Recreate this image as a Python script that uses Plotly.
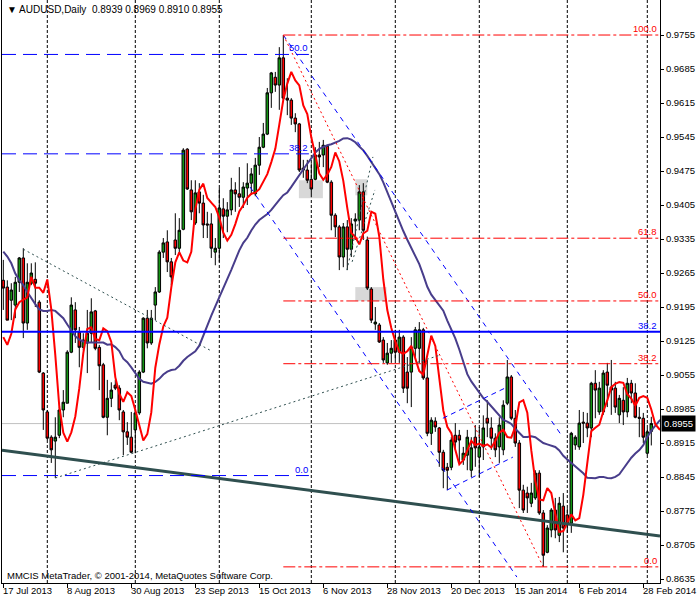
import plotly.graph_objects as go

# ---------------- data ----------------
symbol_title = "AUDUSD,Daily"
tick_bars = [0, 16, 32, 48, 64, 80, 96, 112, 128, 144, 160]
tick_labels = ["17 Jul 2013", "8 Aug 2013", "30 Aug 2013", "23 Sep 2013", "15 Oct 2013",
               "6 Nov 2013", "28 Nov 2013", "20 Dec 2013", "15 Jan 2014", "6 Feb 2014", "28 Feb 2014"]
month_start_bars = [11, 33, 54, 77, 98, 119, 141, 161]
y_ticks = [0.9755, 0.9685, 0.9615, 0.9545, 0.9475, 0.9405, 0.9335, 0.9265, 0.9195,
           0.9125, 0.9055, 0.8985, 0.8915, 0.8845, 0.8775, 0.8705, 0.8635]

opens = [0.9250, 0.9236, 0.9209, 0.9199, 0.9246, 0.9296, 0.9162, 0.9244, 0.9252, 0.9205,
         0.9059, 0.8979, 0.8927, 0.8919, 0.8931, 0.8983, 0.8997, 0.9102, 0.9189, 0.9143,
         0.9112, 0.9121, 0.9141, 0.9187, 0.9112, 0.9076, 0.8968, 0.9007, 0.9034, 0.9028,
         0.8979, 0.8938, 0.8927, 0.8942, 0.8977, 0.9061, 0.9172, 0.9121, 0.9199, 0.9226,
         0.9308, 0.9329, 0.9288, 0.9333, 0.9316, 0.9355, 0.9520, 0.9436, 0.9368, 0.9432,
         0.9409, 0.9366, 0.9366, 0.9308, 0.9316, 0.9397, 0.9382, 0.9395, 0.9436, 0.9428,
         0.9421, 0.9440, 0.9450, 0.9428, 0.9487, 0.9524, 0.9551, 0.9636, 0.9668, 0.9652,
         0.9708, 0.9625, 0.9621, 0.9584, 0.9572, 0.9481, 0.9477, 0.9458, 0.9458, 0.9508,
         0.9508, 0.9526, 0.9452, 0.9384, 0.9360, 0.9298, 0.9360, 0.9314, 0.9372, 0.9374,
         0.9432, 0.9333, 0.9232, 0.9160, 0.9158, 0.9127, 0.9080, 0.9100, 0.9127, 0.9102,
         0.9133, 0.9061, 0.9061, 0.9110, 0.9110, 0.9148, 0.9049, 0.8935, 0.8960, 0.8946,
         0.8896, 0.8865, 0.8865, 0.8931, 0.8931, 0.8880, 0.8890, 0.8859, 0.8927, 0.8886,
         0.8907, 0.8966, 0.8946, 0.8925, 0.8907, 0.8901, 0.8997, 0.9051, 0.8966, 0.8915,
         0.8818, 0.8812, 0.8791, 0.8802, 0.8853, 0.8771, 0.8690, 0.8736, 0.8777, 0.8725,
         0.8785, 0.8767, 0.8750, 0.8911, 0.8907, 0.8958, 0.8956, 0.8946, 0.9038, 0.8979,
         0.8979, 0.9061, 0.9030, 0.9028, 0.8973, 0.9003, 0.8979, 0.9038, 0.9018, 0.8968,
         0.8966, 0.8894, 0.8939]
highs = [0.9292, 0.9250, 0.9244, 0.9257, 0.9298, 0.9316, 0.9285, 0.9285, 0.9287, 0.9209,
         0.9061, 0.8983, 0.8931, 0.8968, 0.8989, 0.9024, 0.9106, 0.9215, 0.9205, 0.9154,
         0.9141, 0.9189, 0.9213, 0.9189, 0.9117, 0.9080, 0.9045, 0.9040, 0.9045, 0.9034,
         0.8983, 0.8958, 0.8979, 0.8983, 0.9065, 0.9174, 0.9189, 0.9189, 0.9236, 0.9312,
         0.9337, 0.9353, 0.9296, 0.9388, 0.9378, 0.9522, 0.9522, 0.9456, 0.9456, 0.9450,
         0.9426, 0.9391, 0.9388, 0.9337, 0.9440, 0.9419, 0.9411, 0.9461, 0.9452, 0.9483,
         0.9452, 0.9491, 0.9481, 0.9502, 0.9545, 0.9574, 0.9646, 0.9679, 0.9679, 0.9730,
         0.9755, 0.9666, 0.9625, 0.9594, 0.9574, 0.9498, 0.9498, 0.9491, 0.9524, 0.9535,
         0.9539, 0.9528, 0.9456, 0.9388, 0.9364, 0.9368, 0.9374, 0.9378, 0.9388, 0.9446,
         0.9450, 0.9340, 0.9236, 0.9195, 0.9162, 0.9133, 0.9121, 0.9127, 0.9148, 0.9148,
         0.9137, 0.9092, 0.9133, 0.9154, 0.9164, 0.9152, 0.9086, 0.8968, 0.8968, 0.8948,
         0.8901, 0.8874, 0.8927, 0.8956, 0.8942, 0.8907, 0.8942, 0.8927, 0.8952, 0.8948,
         0.8972, 0.9003, 0.8968, 0.8935, 0.8968, 0.9003, 0.9086, 0.9055, 0.8983, 0.8921,
         0.8829, 0.8825, 0.8833, 0.8859, 0.8859, 0.8777, 0.8746, 0.8781, 0.8802, 0.8804,
         0.8812, 0.8781, 0.8938, 0.8931, 0.8983, 0.8979, 0.8977, 0.9041, 0.9065, 0.9041,
         0.9065, 0.9080, 0.9086, 0.9041, 0.9014, 0.9030, 0.9049, 0.9045, 0.9038, 0.8989,
         0.8977, 0.8946, 0.8969]
lows = [0.9189, 0.9168, 0.9168, 0.9172, 0.9226, 0.9131, 0.9148, 0.9240, 0.9195, 0.9059,
        0.8942, 0.8921, 0.8874, 0.8843, 0.8925, 0.8968, 0.8997, 0.9100, 0.9121, 0.9071,
        0.9106, 0.9059, 0.9121, 0.9106, 0.9024, 0.8966, 0.8931, 0.8989, 0.9024, 0.8962,
        0.8890, 0.8911, 0.8894, 0.8894, 0.8973, 0.9059, 0.9110, 0.9117, 0.9168, 0.9224,
        0.9296, 0.9267, 0.9240, 0.9302, 0.9302, 0.9353, 0.9436, 0.9374, 0.9364, 0.9388,
        0.9337, 0.9337, 0.9296, 0.9281, 0.9288, 0.9337, 0.9349, 0.9384, 0.9391, 0.9401,
        0.9399, 0.9405, 0.9426, 0.9423, 0.9467, 0.9522, 0.9549, 0.9605, 0.9638, 0.9601,
        0.9621, 0.9590, 0.9570, 0.9555, 0.9473, 0.9461, 0.9450, 0.9421, 0.9456, 0.9483,
        0.9483, 0.9450, 0.9353, 0.9339, 0.9271, 0.9277, 0.9271, 0.9298, 0.9333, 0.9353,
        0.9333, 0.9230, 0.9162, 0.9148, 0.9121, 0.9080, 0.9076, 0.9080, 0.9086, 0.9080,
        0.9018, 0.8997, 0.8989, 0.9092, 0.9080, 0.9045, 0.8929, 0.8911, 0.8938, 0.8866,
        0.8822, 0.8818, 0.8859, 0.8901, 0.8874, 0.8870, 0.8859, 0.8845, 0.8866, 0.8845,
        0.8880, 0.8927, 0.8901, 0.8886, 0.8874, 0.8890, 0.8993, 0.8962, 0.8907, 0.8781,
        0.8771, 0.8771, 0.8783, 0.8798, 0.8767, 0.8660, 0.8688, 0.8721, 0.8719, 0.8711,
        0.8690, 0.8730, 0.8730, 0.8901, 0.8901, 0.8915, 0.8927, 0.8927, 0.8966, 0.8973,
        0.8973, 0.8989, 0.8973, 0.8977, 0.8956, 0.8952, 0.8968, 0.8997, 0.8966, 0.8927,
        0.8915, 0.8890, 0.8910]
closes = [0.9234, 0.9168, 0.9230, 0.9246, 0.9296, 0.9162, 0.9246, 0.9265, 0.9244, 0.9061,
          0.8983, 0.8925, 0.8901, 0.8927, 0.8983, 0.8999, 0.9102, 0.9199, 0.9148, 0.9112,
          0.9127, 0.9141, 0.9185, 0.9110, 0.9074, 0.8968, 0.9007, 0.9024, 0.9028, 0.8983,
          0.8938, 0.8927, 0.8896, 0.8977, 0.9061, 0.9172, 0.9121, 0.9172, 0.9226, 0.9308,
          0.9327, 0.9288, 0.9257, 0.9316, 0.9353, 0.9518, 0.9438, 0.9391, 0.9430, 0.9409,
          0.9364, 0.9364, 0.9316, 0.9316, 0.9399, 0.9382, 0.9395, 0.9436, 0.9428, 0.9421,
          0.9442, 0.9450, 0.9469, 0.9487, 0.9524, 0.9551, 0.9636, 0.9677, 0.9652, 0.9708,
          0.9625, 0.9621, 0.9584, 0.9572, 0.9477, 0.9477, 0.9456, 0.9438, 0.9508, 0.9504,
          0.9528, 0.9452, 0.9384, 0.9360, 0.9298, 0.9360, 0.9314, 0.9366, 0.9376, 0.9432,
          0.9353, 0.9234, 0.9168, 0.9164, 0.9123, 0.9086, 0.9100, 0.9110, 0.9102, 0.9133,
          0.9028, 0.9028, 0.9112, 0.9148, 0.9148, 0.9049, 0.8935, 0.8962, 0.8948, 0.8896,
          0.8859, 0.8859, 0.8921, 0.8917, 0.8921, 0.8894, 0.8927, 0.8905, 0.8905, 0.8907,
          0.8946, 0.8956, 0.8925, 0.8901, 0.8952, 0.8993, 0.9051, 0.8966, 0.8915, 0.8818,
          0.8777, 0.8802, 0.8812, 0.8853, 0.8771, 0.8684, 0.8740, 0.8777, 0.8736, 0.8791,
          0.8740, 0.8750, 0.8935, 0.8927, 0.8956, 0.8956, 0.8946, 0.9038, 0.9024, 0.9028,
          0.9059, 0.9034, 0.9024, 0.8989, 0.9007, 0.8979, 0.9038, 0.9018, 0.8968, 0.8966,
          0.8927, 0.8938, 0.8955]

# moving-average settings and the values visible before the averages can be computed
fast_period, fast_shift = 3, 3
slow_period, slow_shift = 21, 5
fast_ma_head = [0.9133, 0.9117, 0.9140, 0.9190, 0.9205]
slow_ma_head = [0.9309, 0.9299, 0.9285, 0.9264, 0.9250, 0.9240, 0.9226, 0.9213, 0.9201,
                0.9190, 0.9187, 0.9187, 0.9189, 0.9187, 0.9180, 0.9172, 0.9159, 0.9148,
                0.9135, 0.9128, 0.9124, 0.9122, 0.9122, 0.9122, 0.9122]

# drawn objects (bar index, price)
fib_red_high = (70, 0.9755)
fib_red_low = (135, 0.8660)
fib_levels = [0.0, 38.2, 50.0, 61.8, 100.0]
fib_blue_zero = 0.8848
fib_blue_full = 1.0582
fib_blue_end_bar = 76.4
level_blue_solid = 0.9144
trend_main = [(0, 0.8900), (160, 0.8728)]
channel_upper = [(70, 0.9755), (139.2, 0.8935)]
channel_lower = [(61.7, 0.9442), (128.4, 0.8639)]
small_channel_upper = [(109.9, 0.8966), (125.9, 0.9030)]
small_channel_lower = [(110.9, 0.8818), (127.4, 0.8886)]
dotted_lines = [[(5, 0.9314), (51.7, 0.9106)],
                [(13, 0.8843), (109.2, 0.9096)],
                [(85.9, 0.9271), (92.4, 0.9504)],
                [(87.2, 0.9288), (92.9, 0.9436)]]
gray_boxes = [[(73.9, 0.9456), (79.9, 0.9419)],
              [(88.0, 0.9458), (91.0, 0.9425)],
              [(88.0, 0.9236), (95.8, 0.9207)]]

# ---------------- derived series ----------------
n = len(closes)
bars = list(range(n))


def shifted_sma(values, period, shift, head):
    xs, ys = [], []
    for t in range(n + shift):
        if t < len(head):
            xs.append(t)
            ys.append(head[t])
            continue
        end = t - shift
        start = end - period + 1
        if start < 0:
            continue
        xs.append(t)
        ys.append(sum(values[start:end + 1]) / period)
    return xs, ys


fx, fy = shifted_sma(closes, fast_period, fast_shift, fast_ma_head)
sx, sy = shifted_sma(closes, slow_period, slow_shift, slow_ma_head)

X_RANGE = [-0.325, 164.175]
Y_RANGE = [0.86268, 0.98271]
FONT = "Liberation Sans, Arial, sans-serif"
FS = 9

fig = go.Figure()

fig.add_trace(go.Candlestick(
    x=bars, open=opens, high=highs, low=lows, close=closes,
    increasing=dict(line=dict(color="black", width=1), fillcolor="#139413"),
    decreasing=dict(line=dict(color="black", width=1), fillcolor="#ff0000"),
    whiskerwidth=0, hoverinfo="skip", showlegend=False))

fig.add_trace(go.Scatter(x=sx, y=sy, mode="lines", line=dict(color="#483D8B", width=2),
                         hoverinfo="skip", showlegend=False))
fig.add_trace(go.Scatter(x=fx, y=fy, mode="lines", line=dict(color="#FF0000", width=2),
                         hoverinfo="skip", showlegend=False))

shapes = []
annotations = []


def seg(p0, p1, color, width, dash, layer="above"):
    shapes.append(dict(type="line", xref="x", yref="y", x0=p0[0], y0=p0[1], x1=p1[0], y1=p1[1],
                       line=dict(color=color, width=width, dash=dash), layer=layer))


# month grid
for b in month_start_bars:
    shapes.append(dict(type="line", xref="x", yref="paper", x0=b, x1=b, y0=0, y1=1,
                       line=dict(color="black", width=1, dash="3px,2px"), layer="below"))

# gray boxes
for (a, b) in gray_boxes:
    shapes.append(dict(type="rect", xref="x", yref="y", x0=a[0], x1=b[0], y0=a[1], y1=b[1],
                       fillcolor="#D8D8D8", line=dict(width=0), layer="below"))

# bid line
shapes.append(dict(type="line", xref="paper", yref="y", x0=0, x1=1, y0=closes[-1], y1=closes[-1],
                   line=dict(color="#C0C0C0", width=1), layer="below"))

# main trendline extended across the chart
(tx0, ty0), (tx1, ty1) = trend_main
slope = (ty1 - ty0) / (tx1 - tx0)
seg((X_RANGE[0], ty0 + slope * (X_RANGE[0] - tx0)), (X_RANGE[1], ty0 + slope * (X_RANGE[1] - tx0)),
    "#2F4F4F", 3, "solid")

# dotted trendlines
for a, b in dotted_lines:
    seg(a, b, "#2F4F4F", 1, "2px,3px")

# channels
seg(*channel_upper, "#0000FF", 1, "5px,5px")
seg(*channel_lower, "#0000FF", 1, "5px,5px")
seg(*small_channel_upper, "#0000FF", 1, "5px,4px")
seg(*small_channel_lower, "#0000FF", 1, "5px,4px")

# red dotted high-low line
seg((fib_red_high[0], fib_red_high[1]), (fib_red_low[0], fib_red_low[1]), "#FF0000", 1, "2px,3px")

# red fibonacci
rng = fib_red_high[1] - fib_red_low[1]
for lvl in fib_levels:
    p = fib_red_low[1] + rng * lvl / 100
    seg((fib_red_high[0], p), (X_RANGE[1], p), "#FF0000", 1, "12px,3px,3px,3px")
    annotations.append(dict(x=X_RANGE[1] - 0.5, y=p, xref="x", yref="y", text=f"{lvl:.1f}",
                            showarrow=False, xanchor="right", yanchor="bottom",
                            font=dict(color="#FF0000", size=FS + 0.5, family=FONT), borderpad=0))

# blue fibonacci
brng = fib_blue_full - fib_blue_zero
for lvl in fib_levels:
    p = fib_blue_zero + brng * lvl / 100
    if not (Y_RANGE[0] < p < Y_RANGE[1]):
        continue
    seg((X_RANGE[0], p), (fib_blue_end_bar, p), "#0000FF", 1, "14px,7px")
    annotations.append(dict(x=fib_blue_end_bar, y=p, xref="x", yref="y", text=f"{lvl:.1f}",
                            showarrow=False, xanchor="right", yanchor="bottom",
                            font=dict(color="#0000FF", size=FS + 0.5, family=FONT), borderpad=0))

# blue solid level
shapes.append(dict(type="line", xref="paper", yref="y", x0=0, x1=1, y0=level_blue_solid,
                   y1=level_blue_solid, line=dict(color="#0000FF", width=2)))
annotations.append(dict(x=X_RANGE[1] - 0.5, y=level_blue_solid, xref="x", yref="y", text="38.2",
                        showarrow=False, xanchor="right", yanchor="bottom",
                        font=dict(color="#0000FF", size=FS + 0.5, family=FONT), borderpad=0))

# date labels
for b, t in zip(tick_bars, tick_labels):
    annotations.append(dict(x=b, y=0, xref="x", yref="paper", text=t, showarrow=False,
                            xanchor="left", yanchor="top", yshift=-1, xshift=-1, borderpad=0,
                            font=dict(color="black", size=FS + 0.5, family=FONT)))

# title and copyright
annotations.append(dict(x=0.006, y=1, xref="paper", yref="paper",
                        text=f"▼ {symbol_title}\u00a0\u00a0{opens[-1]:.4f} {highs[-1]:.4f} {lows[-1]:.4f} {closes[-1]:.4f}",
                        showarrow=False, xanchor="left", yanchor="top", yshift=-3, borderpad=0,
                        font=dict(color="black", size=10, family=FONT)))
annotations.append(dict(x=0.006, y=0, xref="paper", yref="paper",
                        text="MMCIS MetaTrader, © 2001-2014, MetaQuotes Software Corp.",
                        showarrow=False, xanchor="left", yanchor="bottom", yshift=1, borderpad=0,
                        font=dict(color="black", size=FS + 0.5, family=FONT)))

# current price box
annotations.append(dict(x=1, y=closes[-1], xref="paper", yref="y", text=f"{closes[-1]:.4f}",
                        showarrow=False, xanchor="left", yanchor="middle", xshift=1,
                        bgcolor="black", font=dict(color="white", size=FS + 0.5, family=FONT),
                        borderpad=2))

fig.update_layout(
    template="none",
    width=700, height=600,
    margin=dict(l=2, r=40, t=0, b=17, autoexpand=False),
    paper_bgcolor="white", plot_bgcolor="white",
    showlegend=False, hovermode=False, boxgap=0.1,
    shapes=shapes, annotations=annotations,
    xaxis=dict(range=X_RANGE, showgrid=False, zeroline=False, rangeslider=dict(visible=False),
               automargin=False,
               showline=True, linecolor="black", linewidth=1, ticks="outside", ticklen=4,
               tickcolor="black", tickvals=tick_bars, showticklabels=False),
    yaxis=dict(range=Y_RANGE, side="right", showgrid=False, zeroline=False, showline=True,
               automargin=False,
               linecolor="black", linewidth=1, mirror=True, ticks="outside", ticklen=3,
               tickcolor="black", tickvals=y_ticks, ticktext=[f"{v:.4f}" for v in y_ticks],
               tickfont=dict(color="black", size=FS + 0.5, family=FONT)),
)

fig.write_html("out.html", config={"displayModeBar": False},
               post_script="document.body.style.margin='0';")
